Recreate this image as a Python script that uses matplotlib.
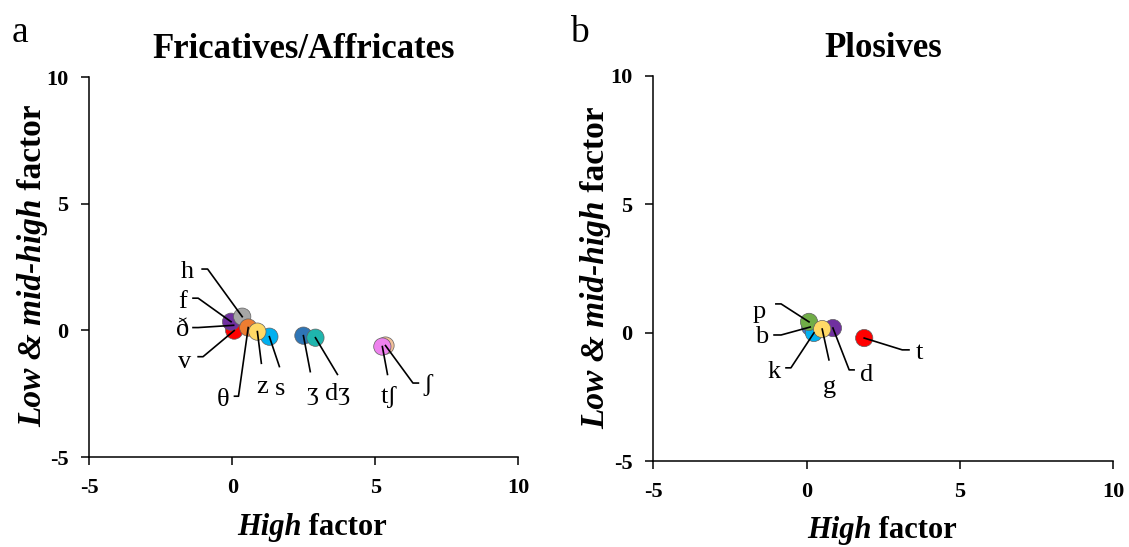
import numpy as np
import matplotlib.pyplot as plt

plt.rcParams['font.family'] = ['Liberation Serif', 'DejaVu Serif']
plt.rcParams['axes.unicode_minus'] = False

# Fricatives / affricates (High factor, Low & mid-high factor)
fric_labels = ['ð', 'v', 'f', 'h', 'θ', 's', 'z', 'ʒ', 'dʒ', 'ʃ', 'tʃ']
fric_x = [0.05, 0.07, -0.04, 0.35, 0.56, 1.30, 0.88, 2.49, 2.91, 5.36, 5.25]
fric_y = [0.20, -0.01, 0.34, 0.54, 0.11, -0.25, -0.05, -0.21, -0.29, -0.60, -0.64]
fric_colors = ['#7f3f98', '#ff0000', '#7030a0', '#a6a6a6', '#ed7d31', '#00b0f0',
               '#ffd966', '#2e75b6', '#1fb5ad', '#f4c09a', '#ee82ee']

# Plosives
plos_labels = ['b', 'd', 'k', 'p', 'g', 't']
plos_x = [0.12, 0.86, 0.24, 0.08, 0.51, 1.88]
plos_y = [0.22, 0.18, -0.01, 0.42, 0.14, -0.21]
plos_colors = ['#4472c4', '#7030a0', '#00b0f0', '#70ad47', '#ffd966', '#ff0000']

# label layout: text position, leader start, elbow x (None = straight)
fric_layout = {
    'h': ((-1.58, 2.32), (-1.05, 2.42), -0.86),
    'f': ((-1.75, 1.13), (-1.37, 1.27), -1.19),
    'ð': ((-1.75, 0.03), (-1.37, 0.11), -1.19),
    'v': ((-1.65, -1.24), (-1.19, -1.04), -1.02),
    'θ': ((-0.32, -2.74), (0.08, -2.60), 0.22),
    'z': ((1.05, -2.22), (1.02, -1.30), None),
    's': ((1.68, -2.30), (1.65, -1.43), None),
    'ʒ': ((2.80, -2.50), (2.73, -1.63), None),
    'dʒ': ((3.68, -2.50), (3.68, -1.74), None),
    'tʃ': ((5.46, -2.62), (5.43, -1.74), None),
    'ʃ': ((6.83, -2.14), (6.51, -2.08), 6.32),
}
plos_layout = {
    'p': ((-1.55, 0.81), (-1.0, 1.12), -0.83),
    'b': ((-1.48, -0.17), (-1.06, -0.09), -0.83),
    'k': ((-1.06, -1.53), (-0.67, -1.37), -0.51),
    'g': ((0.73, -2.11), (0.73, -1.06), None),
    'd': ((1.97, -1.65), (1.55, -1.45), 1.39),
    't': ((3.67, -0.79), (3.34, -0.67), 3.12),
}

xlabel_parts = [('High', 'italic'), (' factor', 'normal')]
ylabel_parts = [('Low & mid-high', 'italic'), (' factor', 'normal')]

W, H = 1129, 547
fig = plt.figure(figsize=(W / 100, H / 100), dpi=100)
ax_a = fig.add_axes([0.0790, 0.1645, 0.3800, 0.6947])
ax_b = fig.add_axes([0.5786, 0.1572, 0.4074, 0.7039])
renderer = fig.canvas.get_renderer()


def rich_label(cx, cy, parts, fontsize, vertical=False):
    # cx, cy: centre of the label (baseline) in pixels from top-left
    widths = []
    for s, st in parts:
        t = fig.text(0, 0, s, fontsize=fontsize, fontweight='bold', fontstyle=st)
        widths.append(t.get_window_extent(renderer).width)
        t.remove()
    total = sum(widths)
    pos = -total / 2
    for (s, st), w in zip(parts, widths):
        if vertical:
            x, y = cx, H - cy + pos
        else:
            x, y = cx + pos, H - cy
        fig.text(x / W, y / H, s, fontsize=fontsize, fontweight='bold', fontstyle=st,
                 ha='left', va='baseline', rotation=90 if vertical else 0,
                 rotation_mode='anchor')
        pos += w


def draw_panel(ax, labels, xs, ys, colors, layout, title, letter, letter_x,
               xl_pos, yl_pos):
    ax.scatter(xs, ys, s=155, c=colors, edgecolors='#606060', linewidths=0.5, zorder=3)
    for lab, px, py in zip(labels, xs, ys):
        (tx, ty), (sx, sy), ex = layout[lab]
        if ex is None:
            lx, ly = [sx, px], [sy, py]
        else:
            lx, ly = [sx, ex, px], [sy, sy, py]
        ax.plot(lx, ly, color='black', lw=1.2, zorder=4)
        ax.text(tx, ty, lab, fontsize=19, ha='center', va='center', zorder=5)
    ax.set_xlim(-5, 10)
    ax.set_ylim(-5, 10)
    ax.set_xticks([-5, 0, 5, 10])
    ax.set_yticks([-5, 0, 5, 10])
    for lbl in ax.get_xticklabels() + ax.get_yticklabels():
        lbl.set_fontweight('bold')
        lbl.set_fontsize(16)
    ax.spines['top'].set_visible(False)
    ax.spines['right'].set_visible(False)
    ax.spines['left'].set_linewidth(1.1)
    ax.spines['bottom'].set_linewidth(1.1)
    ax.tick_params(direction='out', length=6, width=1.1, pad=9)
    ax.set_title(title, fontsize=25, fontweight='bold', pad=14)
    fig.text(letter_x, 0.94, letter, fontsize=27, ha='left', va='center')
    rich_label(xl_pos[0], xl_pos[1], xlabel_parts, 22)
    rich_label(yl_pos[0], yl_pos[1], ylabel_parts, 24, vertical=True)


draw_panel(ax_a, fric_labels, fric_x, fric_y, fric_colors, fric_layout,
           'Fricatives/Affricates', 'a', 0.010, (312, 535), (41, 266))
draw_panel(ax_b, plos_labels, plos_x, plos_y, plos_colors, plos_layout,
           'Plosives', 'b', 0.505, (882, 538), (604, 268))

fig.savefig('out.png', dpi=100)
